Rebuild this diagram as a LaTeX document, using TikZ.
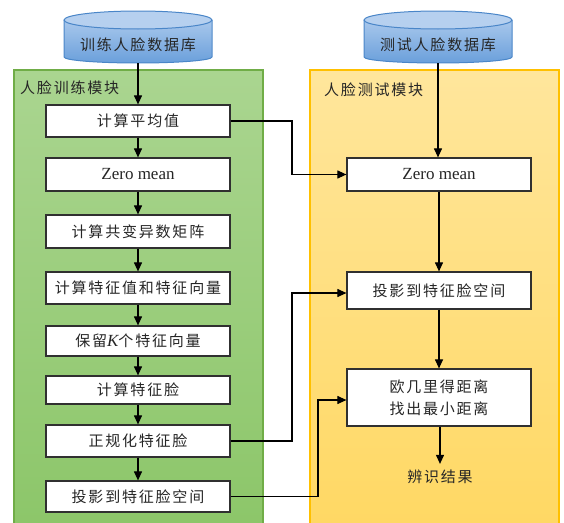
\documentclass[tikz,border=0pt]{standalone}
\usepackage{fontspec}
\setmainfont{Liberation Serif}
\newfontfamily\cjk[LetterSpace=12]{Noto Sans CJK SC}
\usetikzlibrary{arrows.meta,calc}
\definecolor{boxline}{HTML}{303030}
\definecolor{txt}{HTML}{262626}
\definecolor{gtop}{HTML}{AAD590}
\definecolor{gbot}{HTML}{8CC669}
\definecolor{gline}{HTML}{70AD47}
\definecolor{ytop}{HTML}{FFE69C}
\definecolor{ybot}{HTML}{FFD863}
\definecolor{yline}{HTML}{FFC000}
\definecolor{ctop}{HTML}{A9C8EC}
\definecolor{cbot}{HTML}{6A9FDB}
\definecolor{cline}{HTML}{4A86C8}
\tikzset{
  stepbox/.style={draw=boxline, line width=1.2pt, fill=white, minimum width=184pt,
    inner sep=0pt, align=center, text=txt, font=\fontsize{15pt}{22pt}\selectfont\cjk},
  arr/.style={line width=1.1pt, draw=black, -{Triangle[length=9pt,width=8pt]}},
  lbl/.style={inner sep=0pt, text=txt, font=\fontsize{15pt}{18pt}\selectfont\cjk},
}
\newcommand{\latin}[1]{{\fontsize{17pt}{20pt}\selectfont\rmfamily #1}}
\begin{document}
\begin{tikzpicture}[x=1pt,y=-1pt]
\useasboundingbox (0,0) rectangle (564,522);
\clip (0,0) rectangle (564,522);
% module panels
\path[top color=gtop, bottom color=gbot] (14,70) rectangle (263,530);
\draw[gline, line width=1.2pt] (14,530) -- (14,70) -- (263,70) -- (263,530);
\path[top color=ytop, bottom color=ybot] (310,70) rectangle (559,530);
\draw[yline, line width=1.2pt] (310,530) -- (310,70) -- (559,70) -- (559,530);
\node[lbl, anchor=west] (mod1) at (20,88) {人脸训练模块};
\node[lbl, anchor=west] (mod2) at (324,90) {人脸测试模块};
% databases
\foreach \cx/\nm in {138/db1, 438/db2}{
  \path[top color=ctop, bottom color=cbot] (\cx-74,20) -- (\cx-74,57)
     arc[start angle=180, end angle=0, x radius=74, y radius=6] -- (\cx+74,20) -- cycle;
  \draw[cline, line width=1pt] (\cx-74,20) -- (\cx-74,57)
     arc[start angle=180, end angle=0, x radius=74, y radius=6] -- (\cx+74,20);
  \draw[cline, line width=1pt, fill=ctop!85!white] (\cx,20) ellipse [x radius=74, y radius=9];
  \coordinate (\nm) at (\cx,63);
}
\node[lbl] (db1t) at (138,45) {训练人脸数据库};
\node[lbl] (db2t) at (438,45) {测试人脸数据库};
% left column
\node[stepbox, minimum height=32pt] (b1) at (138,121) {计算平均值};
\node[stepbox, minimum height=33pt] (b2) at (138,174.5) {\latin{Zero mean}};
\node[stepbox, minimum height=33pt] (b3) at (138,231.5) {计算共变异数矩阵};
\node[stepbox, minimum height=32pt] (b4) at (138,288) {计算特征值和特征向量};
\node[stepbox, minimum height=30pt] (b5) at (138,341) {保留{\latin{\itshape K}}个特征向量};
\node[stepbox, minimum height=28pt] (b6) at (138,390) {计算特征脸};
\node[stepbox, minimum height=32pt] (b7) at (138,441) {正规化特征脸};
\node[stepbox, minimum height=31pt] (b8) at (138,496.5) {投影到特征脸空间};
% right column
\node[stepbox, minimum height=33pt] (r1) at (439,174.5) {\latin{Zero mean}};
\node[stepbox, minimum height=37pt] (r2) at (439,290.5) {投影到特征脸空间};
\node[stepbox, minimum height=57pt] (r3) at (439,397.5) {欧几里得距离\\找出最小距离};
\node[lbl] (res) at (440,477) {辨识结果};
% connectors
\draw[arr] (db1) -- (b1.north);
\draw[arr] (b1) -- (b2);
\draw[arr] (b2) -- (b3);
\draw[arr] (b3) -- (b4);
\draw[arr] (b4) -- (b5);
\draw[arr] (b5) -- (b6);
\draw[arr] (b6) -- (b7);
\draw[arr] (b7) -- (b8);
\draw[arr] (db2) -- (db2 |- r1.north);
\draw[arr] (r1) -- (r2);
\draw[arr] (r2) -- (r3);
\draw[arr, shorten >=6pt] (r3.south -| res) -- (res.north);
\coordinate (j1) at (292,0);
\coordinate (j2) at (318,0);
\draw[arr] (b1.east) -- (b1.east -| j1) |- (r1.west);
\draw[arr] (b7.east) -- (b7.east -| j1) |- ([yshift=-2.5pt]r2.west);
\draw[arr] (b8.east) -- (b8.east -| j2) |- ([yshift=-2.5pt]r3.west);
\end{tikzpicture}
\end{document}
